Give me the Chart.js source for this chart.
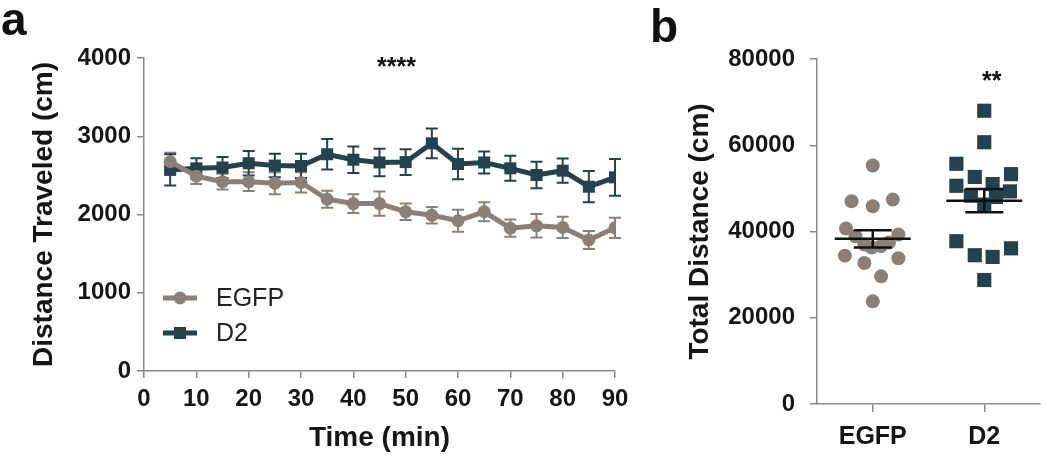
<!DOCTYPE html>
<html><head><meta charset="utf-8">
<script src="https://cdn.jsdelivr.net/npm/chart.js@4.4.0/dist/chart.umd.min.js"></script>
<style>
html,body{margin:0;padding:0;background:#fff;}
body{width:1050px;height:461px;position:relative;overflow:hidden;font-family:"Liberation Sans",Arial,sans-serif;}
#ca{position:absolute;left:0;top:0;}
#cb{position:absolute;left:650px;top:0;}
.lbl{position:absolute;font-weight:bold;color:#111;line-height:1;white-space:nowrap;}
</style></head><body>
<canvas id="ca" width="650" height="461"></canvas>
<canvas id="cb" width="400" height="461"></canvas>
<div class="lbl" style="left:1px;top:-4px;font-size:46px;">a</div>
<div class="lbl" style="left:650px;top:3px;font-size:46px;">b</div>
<div class="lbl" style="left:377px;top:54px;font-size:25px;">****</div>
<div class="lbl" style="left:982px;top:68px;font-size:25px;">**</div>
<script>
// ---------- Panel a data ----------
const times = [5,10,15,20,25,30,35,40,45,50,55,60,65,70,75,80,85,90];
const egfpMean = [2675,2490,2420,2420,2400,2410,2195,2140,2140,2035,1990,1920,2035,1825,1855,1835,1675,1830];
const egfpSem  = [115,100,100,120,140,130,110,120,155,105,105,140,120,110,150,135,115,130];
const d2Mean   = [2570,2590,2600,2655,2625,2620,2770,2700,2665,2670,2910,2645,2665,2590,2505,2560,2355,2475];
const d2Sem    = [200,130,135,155,150,155,195,170,175,165,190,195,140,160,170,155,200,235];
const seriesLabels = ['EGFP','D2'];
const yTicksA = [0,1000,2000,3000,4000];
const xTicksA = [0,10,20,30,40,50,60,70,80,90];

// ---------- Panel b data ----------
const categories = ['EGFP','D2'];
const egfpTotal  = [55300,47000,45850,47400,40700,38900,37000,36300,36600,37450,39300,34400,32700,33800,29600,23800];
const egfpJitter = [0,-0.38,0,0.36,-0.48,-0.31,-0.15,-0.02,0.15,0.29,0.46,-0.50,-0.15,0.46,0.15,0];
const d2Total    = [68000,60700,55700,52650,53300,50600,51000,49300,48300,48000,46250,37750,34500,34100,36100,28750];
const d2Jitter   = [0,0,-0.5,-0.17,0.48,-0.5,0.15,0.46,-0.24,0.21,0,-0.5,-0.17,0.15,0.48,0];
const groupMean  = [38300,47150];
const groupSem   = [2000,2700];
const yTicksB = [0,20000,40000,60000,80000];

// ---------- styles ----------
const EG = '#8b8078';
const D2C = '#24424e';
const AX = '#8a8a8a';
const TXT = '#161616';
const FF = '"Liberation Sans", Arial, sans-serif';

const errPluginA = {
  id:'errA',
  beforeDatasetsDraw(chart){
    const ctx = chart.ctx, xs = chart.scales.x, ys = chart.scales.y;
    chart.data.datasets.forEach((ds)=>{
      ctx.save();
      ctx.strokeStyle = ds.borderColor; ctx.lineWidth = 2;
      ds.sem.forEach((s,i)=>{
        const m = ds.data[i].y;
        const x = xs.getPixelForValue(ds.data[i].x);
        const yt = ys.getPixelForValue(m+s), yb = ys.getPixelForValue(m-s);
        ctx.beginPath();
        ctx.moveTo(x,yt); ctx.lineTo(x,yb);
        ctx.moveTo(x-6,yt); ctx.lineTo(x+6,yt);
        ctx.moveTo(x-6,yb); ctx.lineTo(x+6,yb);
        ctx.stroke();
      });
      ctx.restore();
    });
  }
};

const legendPluginA = {
  id:'legA',
  afterDraw(chart){
    const ctx = chart.ctx;
    const rows = [298,333];
    chart.data.datasets.forEach((ds,i)=>{
      const y = rows[i];
      ctx.save();
      ctx.strokeStyle = ds.borderColor; ctx.lineWidth = 5;
      ctx.beginPath(); ctx.moveTo(163,y); ctx.lineTo(197,y); ctx.stroke();
      ctx.fillStyle = ds.borderColor;
      if (ds.pointStyle === 'rect'){
        const h = ds.pointRadius*Math.SQRT1_2;
        ctx.fillRect(180-h,y-h,2*h,2*h);
      } else {
        ctx.beginPath(); ctx.arc(180,y,ds.pointRadius,0,Math.PI*2); ctx.fill();
      }
      ctx.fillStyle = '#222';
      ctx.font = '25px ' + FF;
      ctx.textBaseline = 'middle';
      ctx.fillText(ds.label, 216, y+1);
      ctx.restore();
    });
  }
};

new Chart(document.getElementById('ca'), {
  type:'line',
  data:{datasets:[
    {label:seriesLabels[0], data:times.map((t,i)=>({x:t,y:egfpMean[i]})), sem:egfpSem,
     borderColor:EG, backgroundColor:EG, borderWidth:5, pointStyle:'circle', pointRadius:6.5,
     pointBorderWidth:0, pointBackgroundColor:EG, tension:0},
    {label:seriesLabels[1], data:times.map((t,i)=>({x:t,y:d2Mean[i]})), sem:d2Sem,
     borderColor:D2C, backgroundColor:D2C, borderWidth:5, pointStyle:'rect', pointRadius:8.5,
     pointBorderWidth:0, pointBackgroundColor:D2C, tension:0}
  ]},
  options:{
    responsive:false, animation:false, devicePixelRatio:1,
    layout:{padding:{left:0,top:58,right:35,bottom:0}},
    plugins:{legend:{display:false}, tooltip:{enabled:false}},
    scales:{
      x:{type:'linear', min:0, max:90,
        afterBuildTicks:(s)=>{s.ticks = xTicksA.map(v=>({value:v}));},
        ticks:{font:{family:FF,size:24,weight:'bold',lineHeight:1.2}, color:TXT, padding:7, maxRotation:0, autoSkip:false, callback:(v)=>String(v)},
        grid:{display:true, drawOnChartArea:false, drawTicks:true, tickLength:7, color:AX, lineWidth:1.5},
        border:{display:true, color:AX, width:1.5},
        title:{display:true, text:'Time (min)', color:TXT, font:{family:FF,size:28,weight:'bold',lineHeight:1.2}, padding:{top:0,bottom:6}},
        afterFit:(s)=>{s.height = 90;}
      },
      y:{type:'linear', min:0, max:4000,
        afterBuildTicks:(s)=>{s.ticks = yTicksA.map(v=>({value:v}));},
        ticks:{font:{family:FF,size:24,weight:'bold',lineHeight:1.2}, color:TXT, padding:6, callback:(v)=>String(v)},
        grid:{display:true, drawOnChartArea:false, drawTicks:true, tickLength:7, color:AX, lineWidth:1.5},
        border:{display:true, color:AX, width:1.5},
        title:{display:true, text:'Distance Traveled (cm)', color:TXT, font:{family:FF,size:28,weight:'bold',lineHeight:1.2}, padding:{top:27,bottom:0}},
        afterFit:(s)=>{s.width = 144;}
      }
    }
  },
  plugins:[errPluginA, legendPluginA]
});

const meanPluginB = {
  id:'meanB',
  afterDatasetsDraw(chart){
    const ctx = chart.ctx, xs = chart.scales.x, ys = chart.scales.y;
    ctx.save();
    ctx.strokeStyle = '#111'; ctx.lineWidth = 2.5;
    groupMean.forEach((m,i)=>{
      const x = xs.getPixelForValue(1+2*i);
      const ym = ys.getPixelForValue(m);
      const yt = ys.getPixelForValue(m+groupSem[i]), yb = ys.getPixelForValue(m-groupSem[i]);
      ctx.beginPath();
      ctx.moveTo(x-38,ym); ctx.lineTo(x+38,ym);
      ctx.moveTo(x,yt); ctx.lineTo(x,yb);
      ctx.moveTo(x-19,yt); ctx.lineTo(x+19,yt);
      ctx.moveTo(x-19,yb); ctx.lineTo(x+19,yb);
      ctx.stroke();
    });
    ctx.restore();
  }
};

new Chart(document.getElementById('cb'), {
  type:'scatter',
  data:{datasets:[
    {label:categories[0], data:egfpTotal.map((v,i)=>({x:1+egfpJitter[i], y:v})),
     pointStyle:'circle', pointRadius:7, pointBorderWidth:0, backgroundColor:EG, pointBackgroundColor:EG},
    {label:categories[1], data:d2Total.map((v,i)=>({x:3+d2Jitter[i], y:v})),
     pointStyle:'rect', pointRadius:10, pointBorderWidth:0, backgroundColor:D2C, pointBackgroundColor:D2C}
  ]},
  options:{
    responsive:false, animation:false, devicePixelRatio:1,
    layout:{padding:{left:0,top:59,right:0,bottom:0}},
    plugins:{legend:{display:false}, tooltip:{enabled:false}},
    scales:{
      x:{type:'linear', min:0, max:4,
        afterBuildTicks:(s)=>{s.ticks = categories.map((c,i)=>({value:1+2*i}));},
        ticks:{font:{family:FF,size:25,weight:'bold',lineHeight:1.2}, color:TXT, padding:10, maxRotation:0, autoSkip:false,
          callback:(v)=>categories[Math.round((v-1)/2)]},
        grid:{display:true, drawOnChartArea:false, drawTicks:true, tickLength:8, color:AX, lineWidth:1.5},
        border:{display:true, color:AX, width:1.5},
        afterFit:(s)=>{s.height = 57;}
      },
      y:{type:'linear', min:0, max:80000,
        afterBuildTicks:(s)=>{s.ticks = yTicksB.map(v=>({value:v}));},
        ticks:{font:{family:FF,size:24,weight:'bold',lineHeight:1.2}, color:TXT, padding:15, callback:(v)=>String(v)},
        grid:{display:true, drawOnChartArea:false, drawTicks:true, tickLength:7, color:AX, lineWidth:1.5},
        border:{display:true, color:AX, width:1.5},
        title:{display:true, text:'Total Distance (cm)', color:TXT, font:{family:FF,size:28,weight:'bold',lineHeight:1.2}, padding:{top:33,bottom:0}},
        afterFit:(s)=>{s.width = 167;}
      }
    }
  },
  plugins:[meanPluginB]
});
</script>
</body></html>
